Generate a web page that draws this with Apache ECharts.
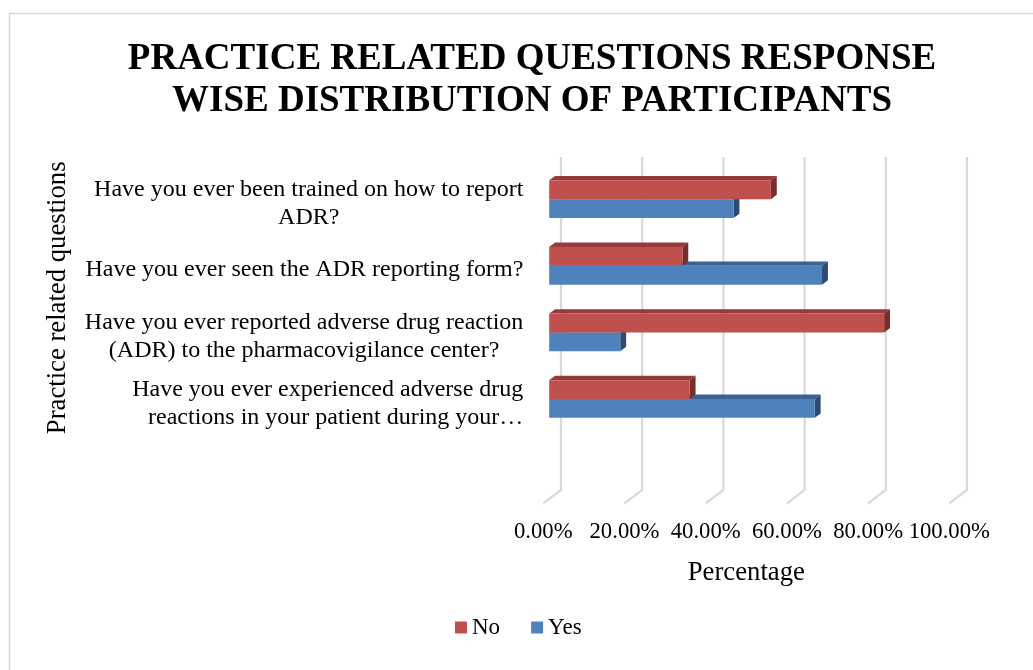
<!DOCTYPE html>
<html>
<head>
<meta charset="utf-8">
<script src="https://cdn.jsdelivr.net/npm/echarts@6/dist/echarts.min.js"></script>
<style>
  html, body { margin: 0; padding: 0; background: #ffffff; }
  #chart { width: 1033px; height: 670px; }
</style>
</head>
<body>
<div id="chart"></div>
<script>
// Questions, listed top to bottom; the last slot is an empty row of the sheet.
const questions = [
  'Have you ever been trained on how to report\nADR?',
  'Have you ever seen the ADR reporting form?',
  'Have you ever reported adverse drug reaction\n(ADR) to the pharmacovigilance center?',
  'Have you ever experienced adverse drug\nreactions in your patient during your\u2026',
  ''
];
// Share of participants (%) answering each question
const noValues  = [54.6, 32.8, 82.5, 34.6];
const yesValues = [45.4, 67.2, 17.5, 65.4];
// Percentage axis ticks
const xTicks = [0, 20, 40, 60, 80, 100];

const FONT = "'Liberation Serif', 'Times New Roman', Times, serif";

// Depth of one bar and of the whole floor (3D look)
const BAR_DX = 5.9, BAR_DY = -4.4;
const FLOOR_DX = 17.7, FLOOR_DY = -13.3;

const palette = {
  No:  { front: '#C0504D', top: '#963B39', side: '#7A2E2C' },
  Yes: { front: '#4F81BD', top: '#3C6192', side: '#2D4B72' }
};

function barRenderer(name, upper) {
  const c = palette[name];
  return function (params, api) {
    const v = api.value(0);
    const idx = api.value(1);
    const end = api.coord([v, idx]);
    const start = api.coord([0, idx]);
    const band = api.size([0, 1])[1];
    const h = band * 0.283;
    const x0 = start[0] + BAR_DX;
    const x1 = end[0] + BAR_DX;
    const cy = end[1] + BAR_DY;
    const yt = upper ? cy - h : cy;
    const yb = upper ? cy : cy + h;
    return {
      type: 'group',
      children: [
        { type: 'polygon', shape: { points: [[x0, yt], [x0 + BAR_DX, yt + BAR_DY], [x1 + BAR_DX, yt + BAR_DY], [x1, yt]] },
          style: { fill: c.top } },
        { type: 'polygon', shape: { points: [[x1, yt], [x1 + BAR_DX, yt + BAR_DY], [x1 + BAR_DX, yb + BAR_DY], [x1, yb]] },
          style: { fill: c.side } },
        { type: 'rect', shape: { x: x0, y: yt, width: x1 - x0, height: yb - yt },
          style: { fill: c.front } }
      ]
    };
  };
}

const chart = echarts.init(document.getElementById('chart'), null, { renderer: 'canvas' });

chart.setOption({
  backgroundColor: '#ffffff',
  animation: false,
  graphic: [
    { type: 'rect', left: 7, top: 11, z: -10, silent: true,
      shape: { width: 1100, height: 720 },
      style: { fill: 'none', stroke: '#D9D9D9', lineWidth: 1.5 } }
  ],
  title: {
    text: 'PRACTICE RELATED QUESTIONS RESPONSE\nWISE DISTRIBUTION OF PARTICIPANTS',
    left: 527, top: 33, textAlign: 'center',
    textStyle: { fontFamily: FONT, fontWeight: 'bold', fontSize: 37, lineHeight: 42, color: '#000000' }
  },
  legend: {
    data: ['No', 'Yes'],
    left: 455, top: 616, padding: 0,
    icon: 'rect', itemWidth: 12, itemHeight: 12, itemGap: 31,
    textStyle: { fontFamily: FONT, fontSize: 23, color: '#000000' }
  },
  grid: { left: 543.3, top: 170.3, width: 406, height: 333, containLabel: false, outerBoundsMode: 'none' },
  xAxis: {
    type: 'value', min: xTicks[0], max: xTicks[xTicks.length - 1], interval: xTicks[1] - xTicks[0],
    name: 'Percentage', nameLocation: 'middle', nameGap: 56,
    nameTextStyle: { fontFamily: FONT, fontSize: 26.7, color: '#000000' },
    axisLine: { show: false }, axisTick: { show: false }, splitLine: { show: false },
    axisLabel: {
      margin: 17, fontFamily: FONT, fontSize: 22.7, color: '#000000',
      formatter: v => v.toFixed(2) + '%'
    }
  },
  yAxis: {
    type: 'category', data: questions, inverse: true,
    name: 'Practice related questions', nameLocation: 'middle', nameGap: 472, nameRotate: 90,
    nameTextStyle: { fontFamily: FONT, fontSize: 26.7, color: '#000000', padding: [0, 0, 0, 78] },
    axisLine: { show: false }, axisTick: { show: false }, splitLine: { show: false },
    axisLabel: {
      margin: 20, fontFamily: FONT, fontSize: 24, lineHeight: 28, color: '#000000',
      // lines are centred within each label; a truncated line keeps to the right edge
      formatter: s => s.split('\n').map(l => (l.endsWith('\u2026') ? '{r|' : '{c|') + l + '}').join('\n'),
      rich: {
        c: { align: 'center', fontFamily: FONT, fontSize: 24, lineHeight: 28, color: '#000000' },
        r: { align: 'right', fontFamily: FONT, fontSize: 24, lineHeight: 28, color: '#000000' }
      }
    }
  },
  series: [
    {
      // back wall and floor gridlines
      type: 'custom', name: 'grid', silent: true, z: 1,
      data: xTicks.map(t => [t]),
      encode: { x: 0 },
      renderItem: function (params, api) {
        const cs = params.coordSys;
        const x = api.coord([api.value(0), 0])[0];
        const bottom = cs.y + cs.height;
        return {
          type: 'polyline',
          shape: { points: [
            [x, bottom],
            [x + FLOOR_DX, bottom + FLOOR_DY],
            [x + FLOOR_DX, cs.y + FLOOR_DY]
          ] },
          style: { stroke: '#D9D9D9', lineWidth: 2.2, fill: 'none' }
        };
      }
    },
    {
      type: 'custom', name: 'Yes', z: 2,
      itemStyle: { color: palette.Yes.front },
      data: yesValues.map((v, i) => [v, i]),
      encode: { x: 0, y: 1 },
      renderItem: barRenderer('Yes', false)
    },
    {
      type: 'custom', name: 'No', z: 3,
      itemStyle: { color: palette.No.front },
      data: noValues.map((v, i) => [v, i]),
      encode: { x: 0, y: 1 },
      renderItem: barRenderer('No', true)
    }
  ]
});
</script>
</body>
</html>
